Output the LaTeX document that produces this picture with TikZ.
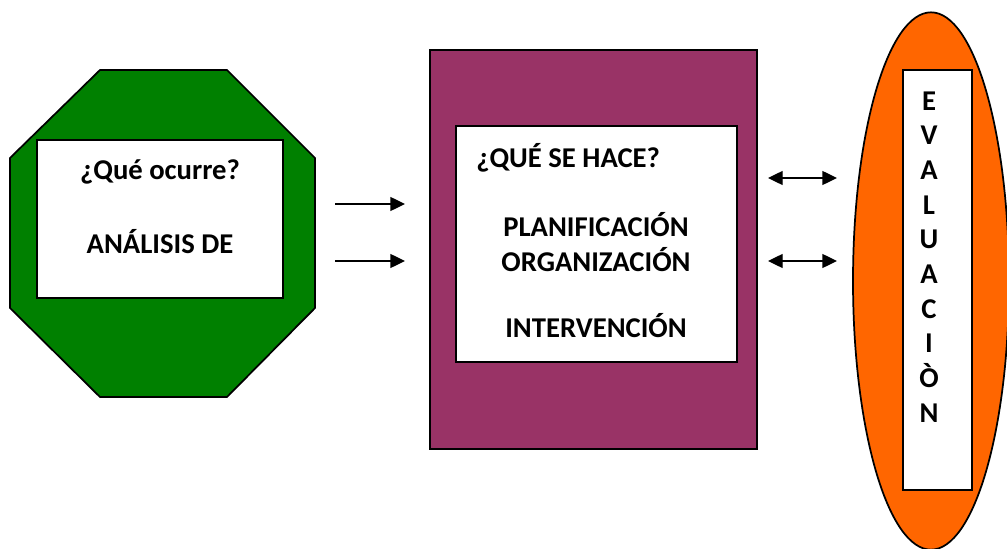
\documentclass[tikz,border=0pt]{standalone}
\usepackage{fontspec}
\setmainfont{Carlito}
\usetikzlibrary{arrows.meta,shapes.geometric}
\tikzset{
  outer/.style={draw=black,line width=1.3pt},
  inbox/.style={draw=black,line width=1.3pt,fill=white,inner sep=0pt},
  lbl/.style={font=\fontsize{21.5}{26}\selectfont\bfseries,inner sep=0pt,text=black},
  arr/.style={line width=1pt,-{Triangle[length=11pt,width=10.5pt]}},
  darr/.style={line width=1pt,{Triangle[length=11pt,width=10.5pt]}-{Triangle[length=11pt,width=10.5pt]}}
}
\definecolor{octgreen}{RGB}{0,128,0}
\definecolor{plum}{RGB}{153,51,102}
\definecolor{orng}{RGB}{255,102,0}
\begin{document}
\begin{tikzpicture}[x=0.75pt,y=-0.75pt]
\useasboundingbox (0,0) rectangle (1007,549);
% octagon
\draw[outer,fill=octgreen] (100,70) -- (227,70) -- (315,158) -- (315,308) -- (227,397) -- (100,397) -- (10,308) -- (10,158) -- cycle;
\node[inbox,minimum width=184.5pt,minimum height=118.5pt] (obox) at (160,219) {};
\node[lbl] (q1) at (160,172) {¿Qué ocurre?};
\node[lbl] (an) at (160,242) {ANÁLISIS DE};
% purple box
\node[outer,fill=plum,minimum width=245.25pt,minimum height=299.25pt,inner sep=0pt] (pbox) at (593.5,249.5) {};
\node[inbox,minimum width=210.75pt,minimum height=177pt] (pin) at (596.5,244) {};
\node[lbl,anchor=west] (q2) at (476,158) {¿QUÉ SE HACE?};
\node[lbl] (pl) at (596,225) {PLANIFICACIÓN};
\node[lbl] (org) at (596,260) {ORGANIZACIÓN};
\node[lbl] (int) at (596,326) {INTERVENCIÓN};
% ellipse
\node[ellipse,outer,fill=orng,minimum width=117pt,minimum height=403pt,inner sep=0pt] (ev) at (931,281) {};
\node[inbox,minimum width=51.75pt,minimum height=315pt] (ebox) at (937.5,280) {};
\node[lbl,align=center] (evt) at (929,257) {E\\V\\A\\L\\U\\A\\C\\I\\Ò\\N};
% arrows
\coordinate (a1s) at (335,204); \coordinate (a1e) at (405,204);
\coordinate (a2s) at (335,261); \coordinate (a2e) at (405,261);
\coordinate (b1s) at (768,178); \coordinate (b1e) at (837,178);
\coordinate (b2s) at (768,261); \coordinate (b2e) at (837,261);
\draw[arr] (a1s) -- (a1e);
\draw[arr] (a2s) -- (a2e);
\draw[darr] (b1s) -- (b1e);
\draw[darr] (b2s) -- (b2e);
\end{tikzpicture}
\end{document}
